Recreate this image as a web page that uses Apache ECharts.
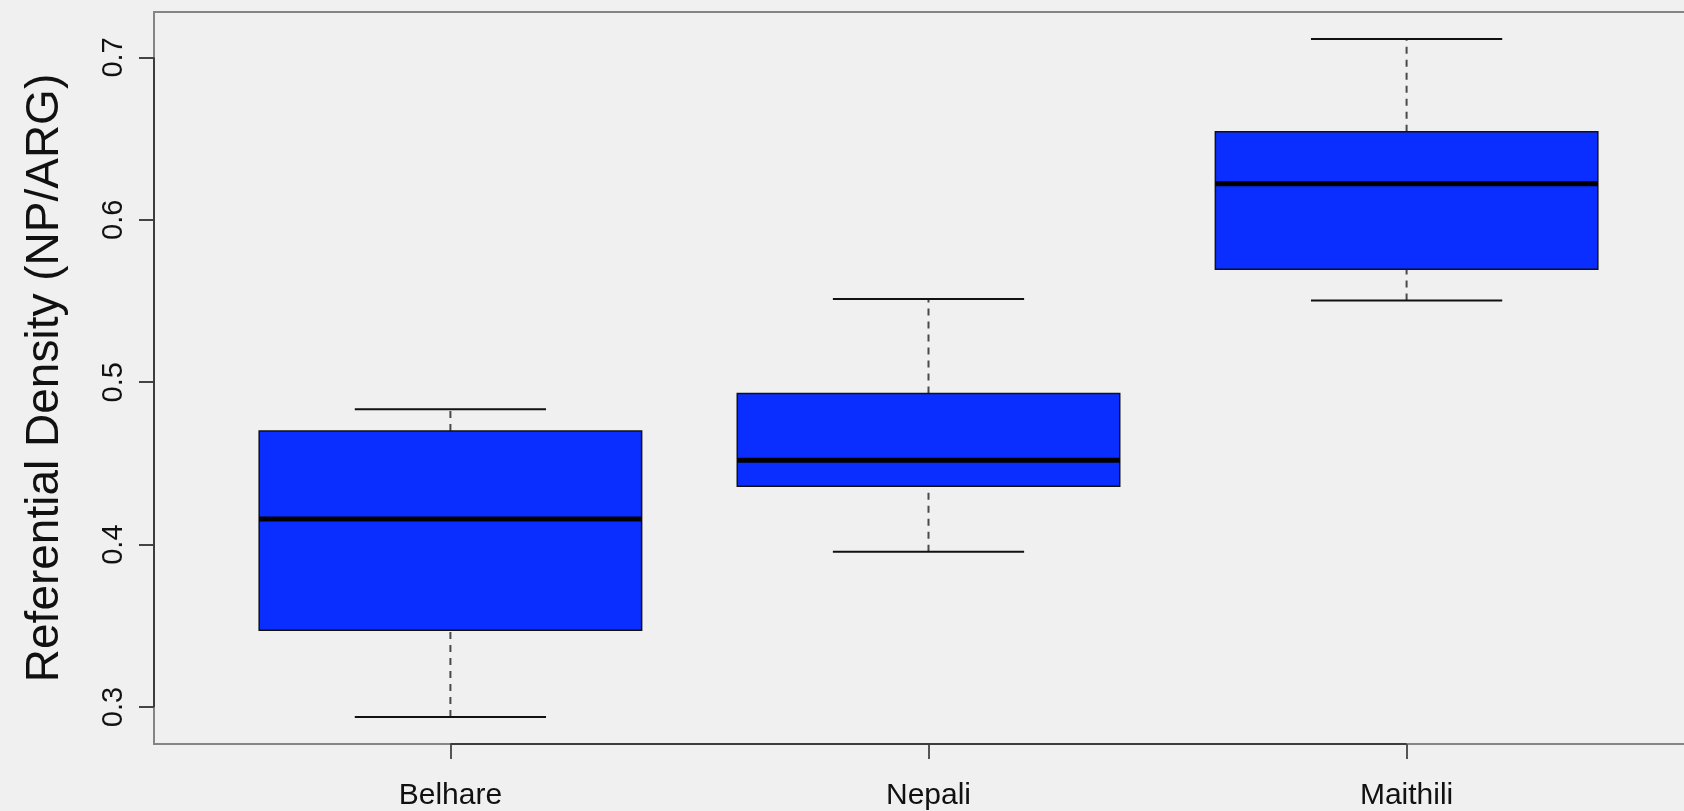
<!DOCTYPE html>
<html>
<head>
<meta charset="utf-8">
<script src="https://cdn.jsdelivr.net/npm/echarts@6/dist/echarts.min.js"></script>
<style>
  html, body { margin: 0; padding: 0; background: #f0f0f0; }
  #chart { width: 1684px; height: 811px; }
</style>
</head>
<body>
<div id="chart"></div>
<script>
// Groups along the x axis (positions 1..n)
const categories = ['Belhare', 'Nepali', 'Maithili'];
// Five-number summaries per group
const whiskerLow  = [0.2938, 0.3956, 0.5504];
const quartile1   = [0.3472, 0.4360, 0.5695];
const medians     = [0.4157, 0.4519, 0.6222];
const quartile3   = [0.4700, 0.4931, 0.6542];
const whiskerHigh = [0.4833, 0.5512, 0.7113];
// Y tick values
const yTicks = [0.3, 0.4, 0.5, 0.6, 0.7];

// Axis ranges (R-style 4% padding around the data)
const X_MIN = 0.38, X_MAX = 3.62;
const Y_MIN = 0.2772, Y_MAX = 0.728;
const BOX_HALF = 0.4;    // half box width in x units
const CAP_HALF = 0.2;    // half staple width

const xPositions = categories.map((_, i) => i + 1);
const boxData = categories.map((_, i) => [
  i + 1, whiskerLow[i], quartile1[i], medians[i], quartile3[i], whiskerHigh[i]
]);

const FONT = '"Liberation Sans", Arial, Helvetica, sans-serif';

function renderBox(params, api) {
  const x = api.value(0);
  const lo = api.value(1), q1 = api.value(2), md = api.value(3), q3 = api.value(4), hi = api.value(5);
  const c = (a, b) => api.coord([a, b]);
  const pLo = c(x, lo), pQ1 = c(x, q1), pQ3 = c(x, q3), pHi = c(x, hi);
  const bl = c(x - BOX_HALF, q1), tr = c(x + BOX_HALF, q3);
  const mL = c(x - BOX_HALF, md), mR = c(x + BOX_HALF, md);
  const capLoL = c(x - CAP_HALF, lo), capLoR = c(x + CAP_HALF, lo);
  const capHiL = c(x - CAP_HALF, hi), capHiR = c(x + CAP_HALF, hi);
  const dashStyle = { stroke: '#4a4a4a', lineWidth: 2, lineDash: [7, 6] };
  const solid = { stroke: '#111', lineWidth: 2 };
  return {
    type: 'group',
    children: [
      { type: 'line', shape: { x1: pLo[0], y1: pLo[1], x2: pQ1[0], y2: pQ1[1] }, style: dashStyle },
      { type: 'line', shape: { x1: pQ3[0], y1: pQ3[1], x2: pHi[0], y2: pHi[1] }, style: dashStyle },
      { type: 'line', shape: { x1: capLoL[0], y1: capLoL[1], x2: capLoR[0], y2: capLoR[1] }, style: solid },
      { type: 'line', shape: { x1: capHiL[0], y1: capHiL[1], x2: capHiR[0], y2: capHiR[1] }, style: solid },
      { type: 'rect', shape: { x: bl[0], y: tr[1], width: tr[0] - bl[0], height: bl[1] - tr[1] },
        style: { fill: '#0a2eff', stroke: '#111', lineWidth: 1.5 } },
      { type: 'line', shape: { x1: mL[0], y1: mL[1], x2: mR[0], y2: mR[1] },
        style: { stroke: '#000', lineWidth: 5 } }
    ]
  };
}

// Axis lines spanning first to last tick (drawn darker than the frame)
function renderAxisLines(params, api) {
  const xa = api.coord([xPositions[0], Y_MIN]);
  const xb = api.coord([xPositions[xPositions.length - 1], Y_MIN]);
  const ya = api.coord([X_MIN, yTicks[0]]);
  const yb = api.coord([X_MIN, yTicks[yTicks.length - 1]]);
  const st = { stroke: '#3c3c3c', lineWidth: 2 };
  return {
    type: 'group',
    children: [
      { type: 'line', shape: { x1: xa[0], y1: xa[1], x2: xb[0], y2: xb[1] }, style: st },
      { type: 'line', shape: { x1: ya[0], y1: ya[1], x2: yb[0], y2: yb[1] }, style: st }
    ]
  };
}

const chart = echarts.init(document.getElementById('chart'), null, { renderer: 'canvas' });
chart.setOption({
  backgroundColor: '#f0f0f0',
  animation: false,
  grid: {
    left: 154, top: 12, width: 1549, height: 732,
    outerBoundsMode: 'none', containLabel: false,
    show: true, borderColor: '#858585', borderWidth: 2, backgroundColor: 'transparent'
  },
  xAxis: {
    type: 'value', min: X_MIN, max: X_MAX,
    axisLine: { show: false },
    splitLine: { show: false },
    axisTick: { show: true, customValues: xPositions, length: 15, lineStyle: { color: '#555', width: 2 } },
    axisLabel: {
      show: true, customValues: xPositions, margin: 37,
      formatter: v => categories[Math.round(v) - 1] || '',
      fontFamily: FONT, fontSize: 30, color: '#111'
    }
  },
  yAxis: {
    type: 'value', min: Y_MIN, max: Y_MAX,
    name: 'Referential Density (NP/ARG)', nameLocation: 'middle', nameGap: 86,
    nameTextStyle: { fontFamily: FONT, fontSize: 46, color: '#111' },
    axisLine: { show: false },
    splitLine: { show: false },
    axisTick: { show: true, customValues: yTicks, length: 15, lineStyle: { color: '#444', width: 2 } },
    axisLabel: {
      show: true, customValues: yTicks, rotate: 90, margin: 26,
      formatter: v => v.toFixed(1),
      fontFamily: FONT, fontSize: 29, color: '#111'
    }
  },
  series: [
    { type: 'custom', name: 'axes', renderItem: renderAxisLines, data: [[X_MIN, Y_MIN]], silent: true, z: 1 },
    { type: 'custom', name: 'boxes', renderItem: renderBox, data: boxData, encode: { x: 0, y: [1, 2, 3, 4, 5] }, z: 2 }
  ]
});
</script>
</body>
</html>
